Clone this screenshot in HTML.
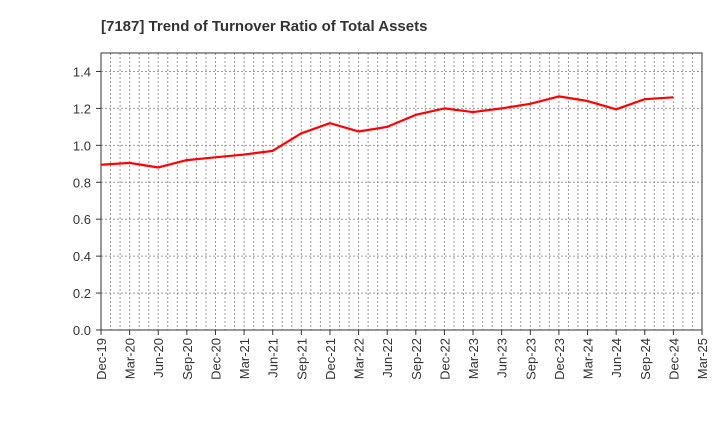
<!DOCTYPE html>
<html><head><meta charset="utf-8"><style>
body{margin:0;background:#fff;font-family:"Liberation Sans",sans-serif;}
</style></head><body>
<svg id="chart" width="720" height="440" xmlns="http://www.w3.org/2000/svg" font-family="Liberation Sans, sans-serif">
<text x="101" y="31" font-size="15" font-weight="bold" fill="#333">[7187]  Trend of Turnover Ratio of Total Assets</text>
<g id="grid"></g><g id="axes"></g><g id="series"></g>
</svg>
<script>
const categories=["Dec-19","Mar-20","Jun-20","Sep-20","Dec-20","Mar-21","Jun-21","Sep-21","Dec-21","Mar-22","Jun-22","Sep-22","Dec-22","Mar-23","Jun-23","Sep-23","Dec-23","Mar-24","Jun-24","Sep-24","Dec-24","Mar-25"];
const values=[0.895,0.905,0.88,0.92,0.935,0.95,0.97,1.065,1.12,1.075,1.10,1.165,1.20,1.18,1.20,1.225,1.265,1.24,1.195,1.25,1.26];
const yTicks=[0,0.2,0.4,0.6,0.8,1.0,1.2,1.4];
const yTickLabels=["0.0","0.2","0.4","0.6","0.8","1.0","1.2","1.4"];
const L=101,R=702,T=53,B=330,yMax=1.5;
const NS="http://www.w3.org/2000/svg";
const x=i=>L+(R-L)*i/(categories.length-1);
const y=v=>B-(B-T)*v/yMax;
function mk(tag,attrs,parent){const e=document.createElementNS(NS,tag);for(const k in attrs)e.setAttribute(k,attrs[k]);parent.appendChild(e);return e;}
const grid=document.getElementById('grid'),axes=document.getElementById('axes'),series=document.getElementById('series');
const nMonths=(categories.length-1)*3;
for(let m=1;m<nMonths;m++){const xx=L+(R-L)*m/nMonths;
const g=mk('line',{x1:xx,x2:xx,y1:T,y2:B,stroke:'#999','stroke-dasharray':'2,2','stroke-width':1},grid);

}
yTicks.forEach((v,i)=>{if(v>0){const g=mk('line',{x1:L,x2:R,y1:y(v),y2:y(v),stroke:'#999','stroke-dasharray':'2,2','stroke-width':1},grid);

}
const t=mk('text',{x:L-10,y:y(v)+5,'text-anchor':'end','font-size':13,fill:'#333'},axes);t.textContent=yTickLabels[i];


mk('line',{x1:L-5,x2:L,y1:y(v),y2:y(v),stroke:'#333'},axes);});
const frame=mk('rect',{x:L,y:T,width:R-L,height:B-T,fill:'none',stroke:'#333','stroke-width':1},axes);


categories.forEach((c,i)=>{mk('line',{x1:x(i),x2:x(i),y1:B,y2:B+5,stroke:'#333'},axes);
const t=mk('text',{x:0,y:0,'text-anchor':'end','font-size':13,fill:'#333',transform:`translate(${x(i)+5},${B+8}) rotate(-90)`},axes);t.textContent=c;

});
const p=mk('polyline',{points:values.map((v,i)=>x(i)+','+y(v)).join(' '),fill:'none',stroke:'#f00','stroke-width':2.2,'stroke-linejoin':'round'},series);


</script>
</body></html>
